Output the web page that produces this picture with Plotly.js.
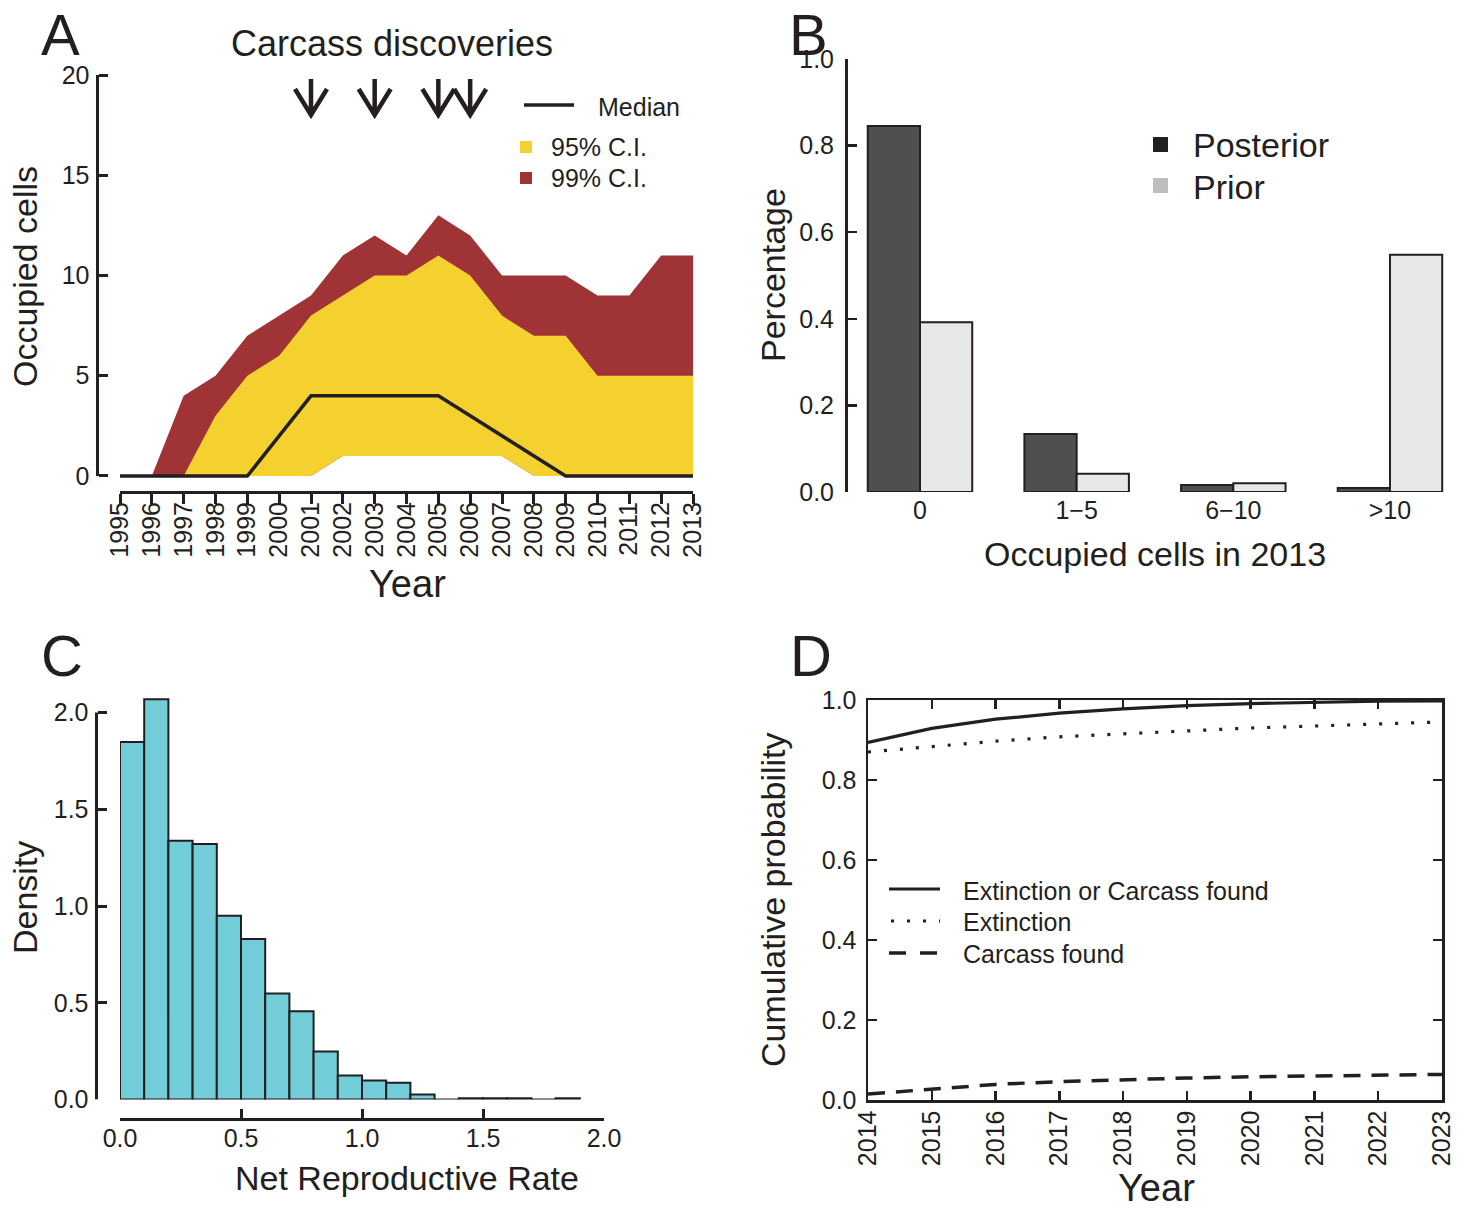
<!DOCTYPE html>
<html><head><meta charset="utf-8">
<script src="https://cdn.plot.ly/plotly-3.0.1.min.js"></script>
<style>html,body{margin:0;padding:0;background:#fff}#chart{width:1465px;height:1210px}</style>
</head><body><div id="chart"></div>
<script>
// ---------- Panel A: occupied cells through time ----------
const yearsA    = [1995,1996,1997,1998,1999,2000,2001,2002,2003,2004,2005,2006,2007,2008,2009,2010,2011,2012,2013];
const ci99Upper = [0,0,4,5,7,8,9,11,12,11,13,12,10,10,10,9,9,11,11];
const ci99Lower = [0,0,0,0,0,0,0,1,1,1,1,1,1,0,0,0,0,0,0];
const ci95Upper = [0,0,0,3,5,6,8,9,10,10,11,10,8,7,7,5,5,5,5];
const ci95Lower = [0,0,0,0,0,0,0,1,1,1,1,1,1,0,0,0,0,0,0];
const medianA   = [0,0,0,0,0,2,4,4,4,4,4,3,2,1,0,0,0,0,0];
const carcassYears = [2001,2003,2005,2006];
const yTicksA = [0,5,10,15,20];

// ---------- Panel B: occupied cells in 2013 ----------
const occCategories = ['0','1\u22125','6\u221210','>10'];
const posterior = [0.845,0.134,0.016,0.009];
const prior     = [0.392,0.042,0.020,0.548];
const yTicksB = [0,0.2,0.4,0.6,0.8,1.0];

// ---------- Panel C: net reproductive rate histogram ----------
const rateBinLeft = [0.0,0.1,0.2,0.3,0.4,0.5,0.6,0.7,0.8,0.9,1.0,1.1,1.2,1.3,1.4,1.5,1.6,1.7,1.8];
const rateDensity = [1.848,2.069,1.337,1.320,0.949,0.829,0.548,0.456,0.248,0.124,0.098,0.086,0.026,0,0.006,0.006,0.006,0,0.006];
const rateBinWidth = 0.1;
const xTicksC = [0,0.5,1.0,1.5,2.0];
const yTicksC = [0,0.5,1.0,1.5,2.0];

// ---------- Panel D: cumulative probability ----------
const yearsD = [2014,2015,2016,2017,2018,2019,2020,2021,2022,2023];
const extOrCarcass = [0.894,0.929,0.952,0.967,0.978,0.986,0.991,0.995,0.997,0.998];
const extinction   = [0.870,0.884,0.897,0.908,0.916,0.923,0.930,0.935,0.940,0.945];
const carcassFound = [0.015,0.028,0.039,0.046,0.051,0.055,0.058,0.060,0.062,0.064];
const yTicksD = [0,0.2,0.4,0.6,0.8,1.0];

// ---------- helpers ----------
const W = 1465, H = 1210;
const px = v => v / W;
const py = v => 1 - v / H;
const FONT = 'Liberation Sans, Arial, Helvetica, sans-serif';
const INK = '#231f20';
const RED = '#a03336', YELLOW = '#f5d130';
const fmt1 = v => v.toFixed(1);

const traces = [
  {x: yearsA, y: ci99Lower, mode: 'lines', line: {width: 0}, xaxis: 'x', yaxis: 'y', hoverinfo: 'skip', showlegend: false},
  {x: yearsA, y: ci99Upper, mode: 'lines', line: {width: 0}, fill: 'tonexty', fillcolor: RED, xaxis: 'x', yaxis: 'y', name: '99% C.I.', showlegend: false},
  {x: yearsA, y: ci95Lower, mode: 'lines', line: {width: 0}, xaxis: 'x', yaxis: 'y', hoverinfo: 'skip', showlegend: false},
  {x: yearsA, y: ci95Upper, mode: 'lines', line: {width: 0}, fill: 'tonexty', fillcolor: YELLOW, xaxis: 'x', yaxis: 'y', name: '95% C.I.', showlegend: false},
  {x: yearsA, y: medianA, mode: 'lines', line: {width: 3.5, color: INK}, xaxis: 'x', yaxis: 'y', name: 'Median', showlegend: false},

  {type: 'bar', x: occCategories, y: posterior, name: 'Posterior', marker: {color: '#4f4f51', line: {color: INK, width: 2}}, xaxis: 'x2', yaxis: 'y2', cliponaxis: false, showlegend: false},
  {type: 'bar', x: occCategories, y: prior, name: 'Prior', marker: {color: '#e6e7e9', line: {color: INK, width: 2}}, xaxis: 'x2', yaxis: 'y2', cliponaxis: false, showlegend: false},

  {type: 'bar', x: rateBinLeft, y: rateDensity, width: rateBinWidth, offset: 0, marker: {color: '#72cdd8', line: {color: INK, width: 2}}, xaxis: 'x3', yaxis: 'y3', cliponaxis: false, showlegend: false, name: 'Density'},

  {x: yearsD, y: extOrCarcass, mode: 'lines', line: {color: INK, width: 3.2}, xaxis: 'x4', yaxis: 'y4', name: 'Extinction or Carcass found', showlegend: false},
  {x: yearsD, y: extinction, mode: 'lines', line: {color: INK, width: 3.2, dash: '3px,13px'}, xaxis: 'x4', yaxis: 'y4', name: 'Extinction', showlegend: false},
  {x: yearsD, y: carcassFound, mode: 'lines', line: {color: INK, width: 3.5, dash: '17px,11px'}, xaxis: 'x4', yaxis: 'y4', name: 'Carcass found', showlegend: false}
];

const tickBase = {showgrid: false, zeroline: false, tickcolor: INK, linecolor: INK, tickfont: {family: FONT, size: 25, color: INK}, fixedrange: true};

const shapes = [];
// Panel A y-axis line (spans tick range only)
shapes.push({type: 'line', xref: 'paper', yref: 'y', x0: px(97.5), x1: px(97.5), y0: yTicksA[0], y1: yTicksA[yTicksA.length-1], line: {color: INK, width: 3}});
// Panel C y-axis line
shapes.push({type: 'line', xref: 'paper', yref: 'y3', x0: px(96.5), x1: px(96.5), y0: yTicksC[0], y1: yTicksC[yTicksC.length-1], line: {color: INK, width: 3}});
// Carcass discovery arrows
carcassYears.forEach(yr => {
  shapes.push({type: 'path', xref: 'x', yref: 'paper', xsizemode: 'pixel', ysizemode: 'pixel', xanchor: yr, yanchor: py(116),
    path: 'M0,1 L0,37 M-16,27 L0,1 L16,27', line: {color: INK, width: 4.5}});
});
// Legend A
shapes.push({type: 'line', xref: 'paper', yref: 'paper', x0: px(524), x1: px(574), y0: py(105), y1: py(105), line: {color: INK, width: 3.5}});
shapes.push({type: 'rect', xref: 'paper', yref: 'paper', x0: px(520), x1: px(532), y0: py(153), y1: py(141), fillcolor: YELLOW, line: {width: 0}});
shapes.push({type: 'rect', xref: 'paper', yref: 'paper', x0: px(520), x1: px(532), y0: py(184), y1: py(172), fillcolor: RED, line: {width: 0}});
// Legend B
shapes.push({type: 'rect', xref: 'paper', yref: 'paper', x0: px(1153), x1: px(1168), y0: py(152), y1: py(137), fillcolor: INK, line: {width: 0}});
shapes.push({type: 'rect', xref: 'paper', yref: 'paper', x0: px(1153), x1: px(1168), y0: py(193), y1: py(178), fillcolor: '#bcbec0', line: {width: 0}});
// Legend D
shapes.push({type: 'line', xref: 'paper', yref: 'paper', x0: px(889), x1: px(940), y0: py(889), y1: py(889), line: {color: INK, width: 3.2}});
shapes.push({type: 'line', xref: 'paper', yref: 'paper', x0: px(891), x1: px(940), y0: py(921), y1: py(921), line: {color: INK, width: 3.2, dash: '3px,13px'}});
shapes.push({type: 'line', xref: 'paper', yref: 'paper', x0: px(889), x1: px(940), y0: py(953), y1: py(953), line: {color: INK, width: 3.5, dash: '17px,14px'}});

function ann(text, x, y, size, opts) {
  return Object.assign({text: text, xref: 'paper', yref: 'paper', x: px(x), y: py(y), xanchor: 'center', yanchor: 'middle', showarrow: false,
    font: {family: FONT, size: size, color: INK}}, opts || {});
}
const annotations = [
  ann('A', 60, 34, 58), ann('B', 808, 34, 58), ann('C', 62, 655, 58), ann('D', 811, 655, 58),
  ann('Carcass discoveries', 392, 43, 36),
  ann('Occupied cells', 25, 277, 34, {textangle: -90}),
  ann('Year', 407, 584, 38),
  ann('Median', 596, 107, 25, {xanchor: 'left'}),
  ann('95% C.I.', 549, 147, 25, {xanchor: 'left'}),
  ann('99% C.I.', 549, 178, 25, {xanchor: 'left'}),
  ann('Percentage', 773, 275, 34, {textangle: -90}),
  ann('Occupied cells in 2013', 1155, 554, 34),
  ann('Posterior', 1191, 145, 34, {xanchor: 'left'}),
  ann('Prior', 1191, 187, 34, {xanchor: 'left'}),
  ann('Density', 25, 898, 34, {textangle: -90}),
  ann('Net Reproductive Rate', 407, 1178, 34),
  ann('Cumulative probability', 773, 899, 34, {textangle: -90}),
  ann('Year', 1156, 1188, 38),
  ann('Extinction or Carcass found', 961, 891, 25, {xanchor: 'left'}),
  ann('Extinction', 961, 922, 25, {xanchor: 'left'}),
  ann('Carcass found', 961, 954, 25, {xanchor: 'left'})
];

const layout = {
  width: W, height: H, margin: {l: 0, r: 0, t: 0, b: 0}, paper_bgcolor: '#fff', plot_bgcolor: 'rgba(0,0,0,0)',
  showlegend: false, barmode: 'group', bargap: 0.333, bargroupgap: 0,
  font: {family: FONT, color: INK},
  xaxis: Object.assign({}, tickBase, {domain: [px(120), px(693)], range: [1995, 2013], anchor: 'free', position: py(492),
    showline: true, linewidth: 3, ticks: 'outside', ticklen: 10, tickwidth: 3, tickvals: yearsA, ticktext: yearsA.map(String), tickangle: -90, ticklabelstandoff: -12}),
  yaxis: Object.assign({}, tickBase, {domain: [py(482.0), py(69.0)], range: [-0.3, 20.3], anchor: 'free', position: px(97.5),
    showline: false, ticks: 'inside', ticklen: 9, tickwidth: 3, tickvals: yTicksA, ticktext: yTicksA.map(String), ticklabelstandoff: 8}),
  xaxis2: Object.assign({}, tickBase, {domain: [px(849.5), px(1449.5)], type: 'category', range: [-0.45, 3.38], anchor: 'y2',
    showline: false, ticks: '', ticklabelstandoff: 1}),
  yaxis2: Object.assign({}, tickBase, {domain: [py(492), py(59)], range: [0, 1], anchor: 'free', position: px(846),
    showline: true, linewidth: 2.5, ticks: 'inside', ticklen: 9, tickwidth: 2.5, tickvals: yTicksB, ticktext: yTicksB.map(fmt1), ticklabelstandoff: 6}),
  xaxis3: Object.assign({}, tickBase, {domain: [px(120), px(604)], range: [0, 2], anchor: 'free', position: py(1119),
    showline: true, linewidth: 3, ticks: 'inside', ticklen: 9, tickwidth: 3, tickvals: xTicksC, ticktext: xTicksC.map(fmt1), ticklabelstandoff: -4}),
  yaxis3: Object.assign({}, tickBase, {domain: [py(1099.5), py(673.8)], range: [0, 2.2], anchor: 'free', position: px(96.5),
    showline: false, ticks: 'inside', ticklen: 9, tickwidth: 3, tickvals: yTicksC, ticktext: yTicksC.map(fmt1), ticklabelstandoff: 8}),
  xaxis4: Object.assign({}, tickBase, {domain: [px(868), px(1442)], range: [2014, 2023], anchor: 'y4',
    showline: true, mirror: 'ticks', linewidth: 2.5, ticks: 'inside', ticklen: 9, tickwidth: 2.5, tickvals: yearsD, ticktext: yearsD.map(String), tickangle: -90, ticklabelstandoff: -2}),
  yaxis4: Object.assign({}, tickBase, {domain: [py(1100), py(700)], range: [0, 1], anchor: 'x4',
    showline: true, mirror: 'ticks', linewidth: 2.5, ticks: 'inside', ticklen: 9, tickwidth: 2.5, tickvals: yTicksD, ticktext: yTicksD.map(fmt1), ticklabelstandoff: 4}),
  shapes: shapes,
  annotations: annotations
};

Plotly.newPlot('chart', traces, layout, {staticPlot: true, displayModeBar: false});
</script>
</body></html>
